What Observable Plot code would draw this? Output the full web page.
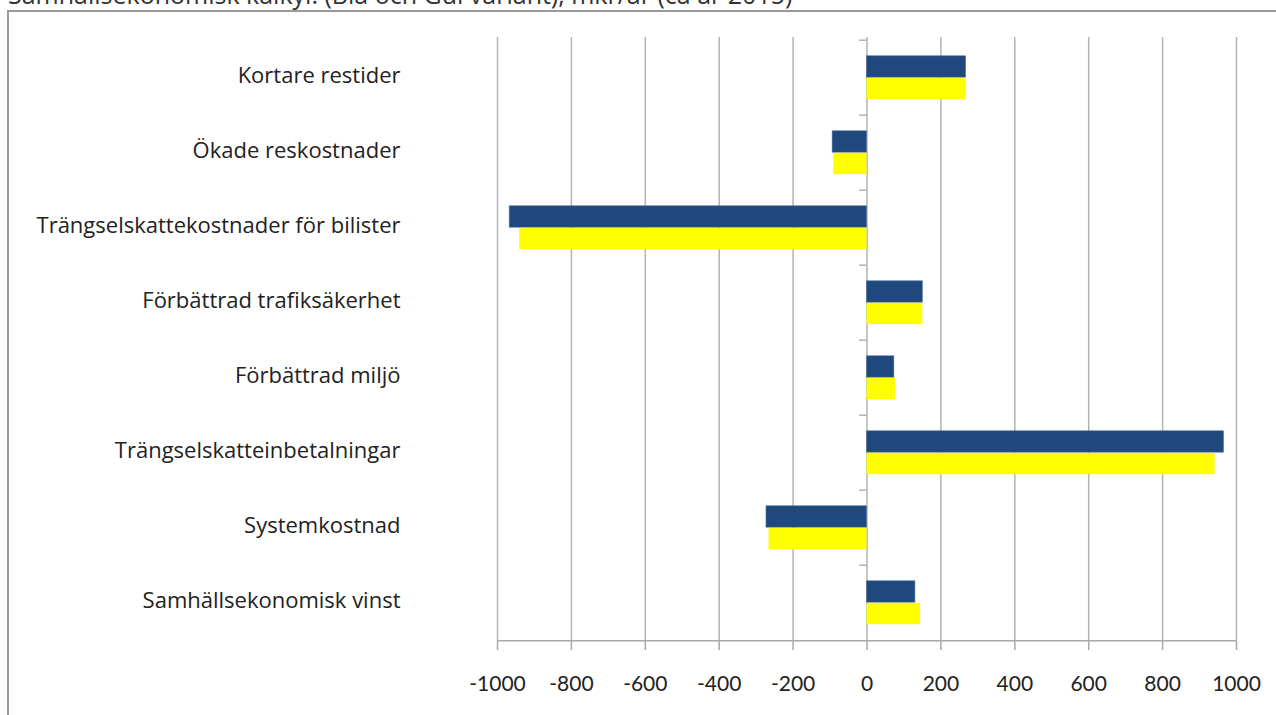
<!DOCTYPE html>
<html>
<head>
<meta charset="utf-8">
<script src="https://cdn.jsdelivr.net/npm/d3@7"></script>
<script src="https://cdn.jsdelivr.net/npm/@observablehq/plot@0.6"></script>
<style>
  html, body { margin: 0; padding: 0; background: #fff; overflow: hidden; }
  #wrap { position: relative; width: 1276px; height: 715px; overflow: hidden; }
  #title { position: absolute; left: 8px; top: -23px; font: 25px "Open Sans", sans-serif; color: #333; white-space: nowrap; }
  #frame { position: absolute; left: 7px; top: 10px; width: 1400px; height: 900px; border: 2px solid #9a9a9a; box-sizing: border-box; }
  #chart { position: absolute; left: 0; top: 0; }
</style>
</head>
<body>
<div id="wrap">
  <div id="title">Samhällsekonomisk kalkyl: (Blå och Gul variant), mkr/år (ca år 2015)</div>
  <div id="frame"></div>
  <div id="chart"></div>
</div>
<script>
const categories = [
  "Kortare restider",
  "Ökade reskostnader",
  "Trängselskattekostnader för bilister",
  "Förbättrad trafiksäkerhet",
  "Förbättrad miljö",
  "Trängselskatteinbetalningar",
  "Systemkostnad",
  "Samhällsekonomisk vinst"
];
const blueValues = [268, -93, -967, 151, 74, 966, -272, 131];
const yellowValues = [268, -90, -940, 151, 77, 942, -265, 145];
const xTicks = [-1000, -800, -600, -400, -200, 0, 200, 400, 600, 800, 1000];

const blueData = categories.map((c, i) => ({cat: c, value: blueValues[i]}));
const yellowData = categories.map((c, i) => ({cat: c, value: yellowValues[i]}));

const W = 1276, H = 715;
const mTop = 37, mBottom = 73;
const step = (H - mTop - mBottom) / categories.length;
const barH = 22;
const half = step / 2;

const chart = Plot.plot({
  width: W,
  height: H,
  marginLeft: 497,
  marginRight: 40,
  marginTop: mTop,
  marginBottom: mBottom,
  style: {background: "transparent", fontFamily: "'Open Sans', sans-serif", color: "#222"},
  x: {domain: [-1000, 1000], ticks: xTicks},
  y: {domain: categories, padding: 0},
  marks: [
    Plot.gridX(xTicks, {stroke: "#b3b3b3", strokeWidth: 1.5, strokeOpacity: 1}),
    Plot.ruleY(categories, {y: d => d, x1: -20, x2: 0, dy: -half, stroke: "#b3b3b3", strokeWidth: 1.5}),
    Plot.ruleY([categories[categories.length - 1]], {y: d => d, x1: -1000, x2: 1000, dy: half, stroke: "#a8a8a8", strokeWidth: 1.5}),
    Plot.barX(blueData, {x: "value", y: "cat", fill: "#1f497d", stroke: "#4a6e9a", strokeWidth: 0.6, insetTop: half - barH, insetBottom: half}),
    Plot.barX(yellowData, {x: "value", y: "cat", fill: "#ffff00", insetTop: half, insetBottom: half - barH}),
    Plot.axisX({ticks: xTicks, tickSize: 8, tickPadding: 26, fontSize: 21, stroke: "#a8a8a8", strokeWidth: 1.5, tickFormat: d => String(d), label: null, fontFamily: "Lato, sans-serif"}),
    Plot.axisY({tickSize: 0, tickPadding: 97, fontSize: 22, label: null, dy: -2})
  ]
});
document.getElementById("chart").appendChild(chart);
</script>
</body>
</html>
